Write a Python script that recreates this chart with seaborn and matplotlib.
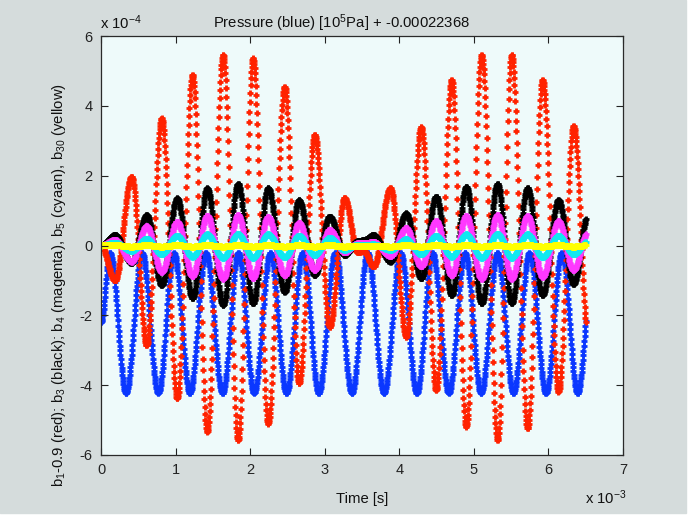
import numpy as np
import pandas as pd
import matplotlib
matplotlib.use("Agg")
import matplotlib.pyplot as plt
import seaborn as sns

# ---- data (x in 1e-3 s, y in 1e-4 units) ----
# times of the turning points shared by the b-series
b_times = [0.000, 0.187, 0.411, 0.612, 0.813, 1.021, 1.228, 1.423, 1.637, 1.838,
           2.039, 2.240, 2.463, 2.655, 2.865, 3.066, 3.266, 3.440, 3.521, 3.655,
           3.882, 4.092, 4.293, 4.494, 4.703, 4.896, 5.104, 5.319, 5.506, 5.720,
           5.921, 6.135, 6.336, 6.533]
red_vals = [0.0, -1.0, 1.97, -2.85, 3.64, -4.38, 4.88, -5.33, 5.46, -5.57,
            5.36, -5.10, 4.55, -3.95, 3.17, -2.33, 1.36, -0.20, -0.15, -0.60,
            1.64, -2.61, 3.40, -4.14, 4.74, -5.19, 5.46, -5.57, 5.46, -5.24,
            4.74, -4.19, 3.42, -2.60]
black_vals = [0.0, 0.30, -0.50, 0.87, -1.13, 1.35, -1.51, 1.64, -1.70, 1.76,
              -1.66, 1.64, -1.32, 1.30, -0.85, 0.83, -0.27, 0.12, 0.15, 0.30,
              -0.46, 0.92, -0.94, 1.40, -1.42, 1.68, -1.66, 1.76, -1.66, 1.64,
              -1.42, 1.30, -1.10, 0.90]
magenta_vals = [0.0, 0.16, -0.46, 0.55, -0.75, 0.68, -0.88, 0.85, -0.95, 0.87,
                -0.93, 0.82, -0.85, 0.65, -0.70, 0.45, -0.20, 0.06, 0.06, 0.10,
                -0.30, 0.50, -0.60, 0.70, -0.85, 0.85, -0.95, 0.87, -0.95, 0.85,
                -0.90, 0.70, -0.70, 0.40]
cyan_vals = [0.0, 0.08, -0.15, 0.20, -0.25, 0.28, -0.32, 0.32, -0.35, 0.33,
             -0.35, 0.32, -0.33, 0.28, -0.27, 0.22, -0.12, 0.02, 0.02, 0.03,
             -0.12, 0.18, -0.25, 0.28, -0.32, 0.32, -0.35, 0.33, -0.35, 0.32,
             -0.33, 0.28, -0.25, 0.12]
yellow_vals = [0.0, 0.01, -0.03, 0.01, -0.03, 0.01, -0.03, 0.01, -0.03, 0.01,
               -0.03, 0.01, -0.03, 0.01, -0.03, 0.01, -0.03, 0.0, 0.0, 0.0,
               -0.03, 0.01, -0.03, 0.01, -0.03, 0.01, -0.03, 0.01, -0.03, 0.01,
               -0.03, 0.01, -0.03, 0.01]
# pressure (blue): turning points
p_times = [0.000, 0.120, 0.335, 0.549, 0.767, 0.977, 1.191, 1.406, 1.629, 1.841,
           2.052, 2.269, 2.486, 2.704, 2.918, 3.139, 3.364, 3.574, 3.793, 4.016,
           4.234, 4.444, 4.663, 4.880, 5.096, 5.315, 5.529, 5.743, 5.967, 6.178,
           6.390, 6.606]
p_vals = [-2.2, -0.22, -4.22, -0.22, -4.22, -0.22, -4.22, -0.22, -4.22, -0.22,
          -4.22, -0.22, -4.22, -0.22, -4.22, -0.22, -4.22, -0.22, -4.22, -0.22,
          -4.22, -0.22, -4.22, -0.22, -4.22, -0.22, -4.22, -0.22, -4.22, -0.22,
          -4.22, -0.22]
T_END = 6.5      # last sample (1e-3 s)
DT = 0.005       # sampling step (1e-3 s)

x_ticks = [0, 1, 2, 3, 4, 5, 6, 7]
y_ticks = [-6, -4, -2, 0, 2, 4, 6]


def sampled(times, vals):
    t = np.arange(0.0, T_END + 1e-9, DT)
    tm = np.asarray(times, float)
    v = np.asarray(vals, float)
    i = np.clip(np.searchsorted(tm, t, side="right") - 1, 0, len(tm) - 2)
    s = (t - tm[i]) / (tm[i + 1] - tm[i])
    w = (1 - np.cos(np.pi * s)) / 2
    return t, v[i] + (v[i + 1] - v[i]) * w


series = [
    ("pressure", p_times, p_vals, "#0a37ff"),
    ("b1", b_times, red_vals, "#ff2200"),
    ("b3", b_times, black_vals, "#000000"),
    ("b4", b_times, magenta_vals, "#ff38ff"),
    ("b5", b_times, cyan_vals, "#10e8f0"),
    ("b30", b_times, yellow_vals, "#ffff00"),
]

plt.rcParams["font.family"] = ["Liberation Sans", "DejaVu Sans"]
plt.rcParams["mathtext.fontset"] = "custom"
plt.rcParams["mathtext.rm"] = "Liberation Sans"
plt.rcParams["mathtext.it"] = "Liberation Sans"

W, H = 699, 515
fig = plt.figure(figsize=(W / 100, H / 100), dpi=100)
fig.patch.set_facecolor("white")
fig.patches.append(plt.Rectangle((0, 1 - 513 / H), 686 / W, 513 / H,
                                 transform=fig.transFigure, color="#d5dcdc", zorder=-10))

ax = fig.add_axes([101 / W, 1 - 455 / H, (623 - 101) / W, (455 - 36) / H])
ax.set_facecolor("#eefafa")

for name, tt, vv, col in series:
    t, v = sampled(tt, vv)
    df = pd.DataFrame({"t": t, "v": v})
    sns.scatterplot(data=df, x="t", y="v", marker="+", s=20, color=col,
                    linewidth=2.0, ax=ax, legend=False)

ax.set_xlim(0, 7)
ax.set_ylim(-6, 6)
ax.set_xticks(x_ticks)
ax.set_yticks(y_ticks)
ax.set_xticklabels([str(v) for v in x_ticks])
ax.set_yticklabels([str(v) for v in y_ticks])
ax.tick_params(direction="in", length=5, width=0.8, top=True, right=True,
               labelsize=10.5, colors="#222222", pad=6)
for sp in ax.spines.values():
    sp.set_color("#2a2a2a")
    sp.set_linewidth(0.9)
ax.set_xlabel("")
ax.set_ylabel("")

fs = 10.7
fig.text(341 / W, 1 - 28 / H, r"Pressure (blue) [10$^5$Pa] + -0.00022368",
         ha="center", va="baseline", fontsize=fs, color="#111111")
fig.text(100 / W, 1 - 29 / H, r"x 10$^{-4}$", ha="left", va="baseline",
         fontsize=fs, color="#111111")
fig.text(362 / W, 1 - 503 / H, "Time [s]", ha="center", va="baseline",
         fontsize=fs, color="#111111")
fig.text(585 / W, 1 - 504 / H, r"x 10$^{-3}$", ha="left", va="baseline",
         fontsize=fs, color="#111111")
fig.text(59 / W, 1 - 285 / H,
         r"b$_1$-0.9 (red); b$_3$ (black); b$_4$ (magenta), b$_5$ (cyaan), b$_{30}$ (yellow)",
         rotation=90, ha="center", va="center", fontsize=fs, color="#111111")

fig.savefig("out.png", dpi=100, facecolor=fig.get_facecolor())
